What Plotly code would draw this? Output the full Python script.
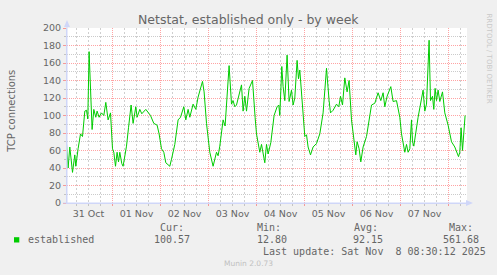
import pandas as pd
import plotly.graph_objects as go

# ---- data ----
start_day = "2025-10-31"
hours = [1.0,1.8,2.65,4.0,5.15,5.65,6.8,8.0,9.0,10.15,
         11.0,11.65,12.3,13.8,14.65,15.65,16.3,17.3,18.5,19.65,
         20.65,21.8,23.0,24.0,24.65,25.5,26.3,27.0,27.65,28.65,
         29.3,31.0,32.0,33.3,34.3,35.65,36.3,37.65,38.65,40.65,
         43.0,44.65,46.3,47.3,48.5,49.65,50.65,52.65,53.5,55.15,
         56.8,58.0,59.65,60.65,61.8,62.65,64.3,65.65,66.8,67.65,
         69.0,69.8,71.0,72.65,74.3,76.0,76.8,77.65,79.3,80.3,
         82.3,83.5,84.3,85.15,86.0,88.5,89.3,90.15,91.0,92.3,
         94.0,95.3,96.0,97.65,98.5,100.15,101.0,101.8,103.15,104.8,
         106.3,107.15,107.65,108.65,109.3,110.15,111.3,112.3,113.5,114.3,
         115.15,116.3,117.0,117.65,118.5,119.3,120.15,121.0,121.8,123.0,
         124.3,126.0,127.65,129.3,131.0,132.3,133.0,134.3,136.0,137.15,
         138.0,139.0,140.15,141.3,142.3,143.5,144.3,145.65,146.3,147.3,
         148.15,149.3,151.0,152.3,153.5,155.15,156.8,158.15,159.3,160.15,
         161.3,163.15,164.3,166.0,167.65,168.5,170.15,171.0,171.8,172.65,
         173.5,174.0,174.65,176.8,178.5,179.3,180.15,181.0,182.3,183.0,
         184.0,184.65,185.3,186.0,186.8,187.65,189.0,190.15,191.8,193.5,
         195.15,196.3,197.0,197.65,198.3,199.0,200.3]
established = [68,40,64,35,55,42,62,79,76,105,
               106,96,173,84,107,98,105,98,103,100,
               115,95,103,62,58,42,58,47,58,45,
               42,65,86,112,91,110,98,107,102,107,
               100,91,89,79,62,58,46,42,50,67,
               95,98,110,95,107,98,113,107,121,127,
               139,127,91,58,42,58,54,65,95,88,
               157,113,117,110,112,135,105,122,105,131,
               140,98,79,58,67,46,67,56,69,100,
               110,112,100,156,133,117,169,116,129,112,
               120,163,142,152,122,95,76,78,64,55,
               64,68,79,103,154,117,103,106,113,110,
               122,112,143,127,140,95,77,55,70,62,
               47,64,76,95,112,114,126,117,126,110,
               122,133,116,117,98,79,58,67,58,62,
               95,70,65,98,117,129,105,113,186,117,
               122,107,131,117,129,116,127,103,89,70,
               64,57,53,58,86,60,100]
x_range = ["2025-10-31 01:15", "2025-11-08 09:15"]
y_range = [0, 200]
stats_labels = ["Cur:", "Min:", "Avg:", "Max:"]
stats_values = ["100.57", "12.80", "92.15", "561.68"]
series_name = "established"
last_update = "Last update: Sat Nov  8 08:30:12 2025"

assert len(hours) == len(established)
times = pd.Timestamp(start_day) + pd.to_timedelta(hours, unit="h")

# minor (6-hour) grid positions, skipping the midnights that carry the major grid
minor_ticks = [t for t in pd.date_range(start_day, "2025-11-09", freq="6h") if t.hour != 0]

# ---- styling ----
W, H = 497, 275
L, R, T, B = 67, 467, 28, 203
BACK = "#F0F0F0"
FONT_C = "#666666"
AXIS_C = "#CFD6F8"
MGRID = "rgba(255,0,0,0.36)"
GRID = "rgba(140,140,140,0.45)"
VGRID = "rgba(140,140,140,0.42)"
DASH = "1px,1px"
SANS = "DejaVu Sans"
MONO = "DejaVu Sans Mono"
DAY_MS = 86400000


def px(x):
    return (x - L) / (R - L)


def py(y):
    return (B - y) / (B - T)


fig = go.Figure()
fig.add_trace(go.Scatter(x=[], y=[], xaxis="x2", showlegend=False, hoverinfo="skip"))
fig.add_trace(go.Scatter(x=times, y=established, mode="lines",
                         line=dict(color="#00CC00", width=1),
                         name=series_name, showlegend=False, hoverinfo="skip"))

fig.update_layout(
    width=W, height=H,
    margin=dict(l=L, r=W - R, t=T, b=H - B, pad=0),
    paper_bgcolor=BACK, plot_bgcolor="#FFFFFF",
    font=dict(family=SANS, color=FONT_C, size=9.5),
    showlegend=False,
    # main axis: 6-hour minor grid
    xaxis=dict(
        type="date", range=x_range, fixedrange=True,
        tickmode="array", tickvals=minor_ticks,
        showticklabels=False,
        ticks="outside", ticklen=2, tickcolor=GRID, tickwidth=1,
        showgrid=True, gridcolor=VGRID, griddash="2px,2px", gridwidth=1,
        showline=True, linecolor=AXIS_C, linewidth=1, zeroline=False,
    ),
    # overlay: daily major grid and day labels
    xaxis2=dict(
        type="date", range=x_range, fixedrange=True, overlaying="x",
        anchor="y", side="bottom",
        tickmode="linear", tick0=start_day, dtick=DAY_MS, ticklabelmode="period",
        tickformat="%d %b", tickfont=dict(family=SANS, size=9.5, color=FONT_C),
        ticks="outside", ticklen=2, tickcolor=MGRID,
        showgrid=True, gridcolor=MGRID, griddash=DASH, gridwidth=1,
        showline=False, zeroline=False,
    ),
    yaxis=dict(
        range=y_range, fixedrange=True, dtick=20, tick0=0,
        tickfont=dict(family=SANS, size=9.5, color=FONT_C),
        ticks="outside", ticklen=3, tickcolor=MGRID,
        showgrid=True, gridcolor=MGRID, griddash=DASH, gridwidth=1,
        minor=dict(dtick=10, showgrid=True, gridcolor=GRID, griddash=DASH,
                   ticks="outside", ticklen=2, tickcolor=GRID),
        showline=True, linecolor=AXIS_C, linewidth=1, zeroline=False,
    ),
)

ann = []


def text(x, y, s, size=10, family=MONO, color=FONT_C, xanchor="left", angle=0):
    ann.append(dict(x=px(x), y=py(y), xref="paper", yref="paper", text=s,
                    showarrow=False, xanchor=xanchor, yanchor="middle",
                    textangle=angle,
                    font=dict(family=family, size=size, color=color)))


text(248.5, 19, "Netstat, established only - by week", size=12.5, family=SANS,
     xanchor="center")
text(10.7, 111, "TCP connections", size=10, family=SANS, xanchor="center", angle=-90)
text(488.5, 58, "RRDTOOL / TOBI OETIKER", size=7, family=SANS, color="#C8C8C8",
     xanchor="center", angle=90)

label_x = [158.3, 255, 351.7, 446.7]
value_x = [152.3, 255, 351, 441]
for lx, s in zip(label_x, stats_labels):
    text(lx, 227.3, s)
for vx, s in zip(value_x, stats_values):
    text(vx, 239.5, s)
text(26.3, 239.5, series_name)
text(261.3, 251.7, last_update)
text(248, 263.5, "Munin 2.0.73", size=7.5, family=SANS, color="#C0C0C0",
     xanchor="center")

fig.update_layout(annotations=ann)

shapes = [
    dict(type="rect", xref="paper", yref="paper", x0=px(14), x1=px(19.3),
         y0=py(237.2), y1=py(242.5), fillcolor="#00CC00", line=dict(width=0)),
    dict(type="line", xref="paper", yref="paper", x0=px(67), x1=px(67),
         y0=py(203), y1=py(24), line=dict(color=AXIS_C, width=1)),
    dict(type="path", xref="paper", yref="paper",
         path=f"M {px(64)} {py(27)} L {px(67)} {py(20)} L {px(70)} {py(27)} Z",
         fillcolor=AXIS_C, line=dict(width=0)),
    dict(type="line", xref="paper", yref="paper", x0=px(63), x1=px(469),
         y0=py(203), y1=py(203), line=dict(color=AXIS_C, width=1)),
    dict(type="path", xref="paper", yref="paper",
         path=f"M {px(466)} {py(200)} L {px(473)} {py(203)} L {px(466)} {py(206)} Z",
         fillcolor=AXIS_C, line=dict(width=0)),
]
fig.update_layout(shapes=shapes)

fig.write_html("out.html")
